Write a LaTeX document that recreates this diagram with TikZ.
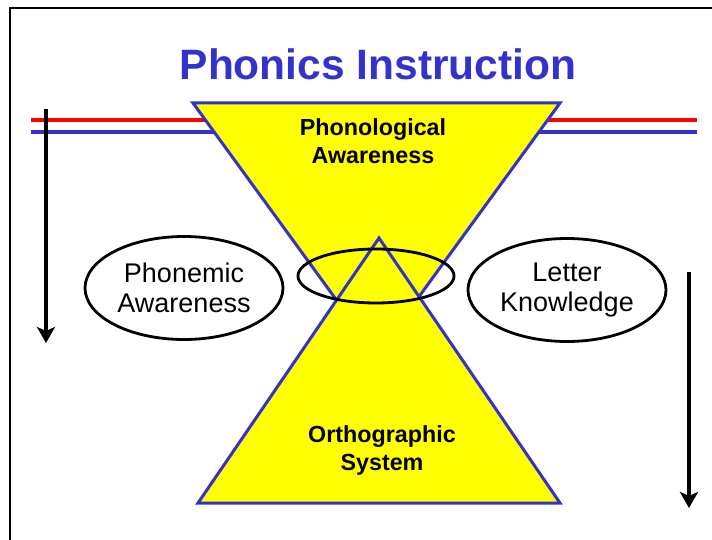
\documentclass[tikz,border=0pt]{standalone}
\usepackage{fontspec}
\setmainfont{Liberation Sans}
\usetikzlibrary{arrows.meta,shapes.geometric}
\definecolor{slideblue}{RGB}{51,51,204}
\definecolor{slideyellow}{RGB}{255,255,0}

\begin{document}
\begin{tikzpicture}%
  [x=1pt,y=-1pt,
   frame/.style={line width=2.8pt},
   rule/.style={line width=4.5pt},
   cone/.style={draw=slideblue,fill=slideyellow,line width=3pt},
   conetext/.style={align=center,inner sep=0pt,
     font=\bfseries\fontsize{23.3}{28}\selectfont},
   oval/.style=
    {draw,ellipse,line width=2.8pt,minimum width=198pt,minimum height=103pt,
     inner sep=0pt,align=center,font=\fontsize{27}{30}\selectfont},
   ring/.style={draw,ellipse,line width=2.8pt,minimum width=156pt,
     minimum height=54pt,inner sep=0pt},
   flow/.style={line width=3.5pt,-{Stealth[length=16pt,width=18pt,inset=4pt]}}
  ]
  \useasboundingbox (0,0) rectangle (712,540);
  % slide frame
  \draw[frame] (10,540) -- (10,8) -- (712,8);
  \node[anchor=base,text=slideblue,font=\bfseries\fontsize{42.5}{50}\selectfont]
    (title) at (378,80) {Phonics Instruction};
  % red and blue rules
  \draw[rule,red] (31,120) -- (697,120);
  \draw[rule,slideblue] (31,132) -- (697,132);
  % the two cones
  \coordinate (up1) at (193,103);
  \coordinate (up2) at (560,103);
  \coordinate (up3) at (376.5,355);
  \coordinate (lo1) at (198,503);
  \coordinate (lo2) at (560,503);
  \coordinate (lo3) at (379,238);
  \draw[cone] (up1) -- (up2) -- (up3) -- cycle;
  \draw[cone] (lo1) -- (lo2) -- (lo3) -- cycle;
  \node[conetext] (phon) at (373,141) {Phonological\\Awareness};
  \node[conetext] (orth) at (382,450) {Orthographic\\System};
  \node[ring] (overlap) at (376,276) {};
  \node[oval] (pa) at (184,288) {Phonemic\\Awareness};
  \node[oval] (lk) at (567,290) {Letter\\Knowledge};
  % side arrows
  \coordinate (lstart) at (46,109);
  \coordinate (lend) at (46,343);
  \coordinate (rstart) at (689,272);
  \coordinate (rend) at (689,508);
  \draw[flow] (lstart) -- (lend);
  \draw[flow] (rstart) -- (rend);
\end{tikzpicture}
\end{document}
